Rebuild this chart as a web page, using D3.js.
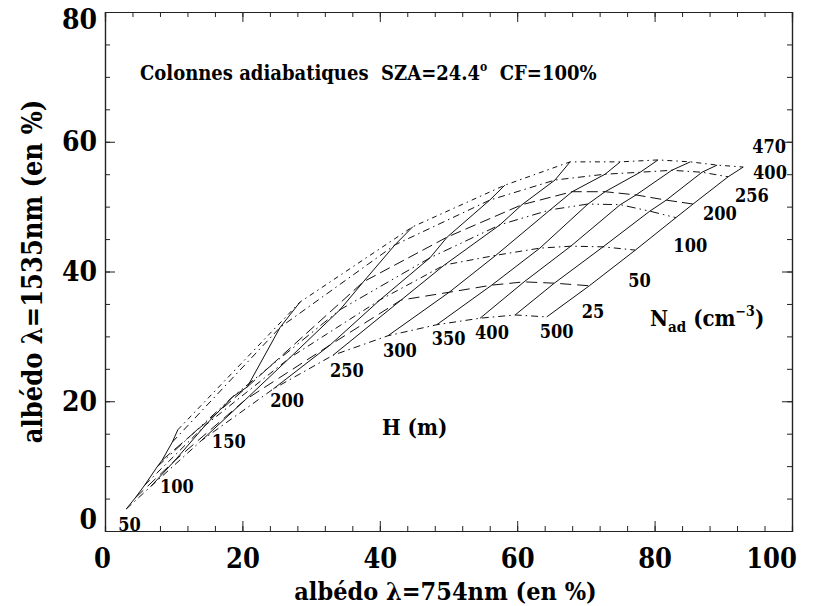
<!DOCTYPE html>
<html><head><meta charset="utf-8">
<script src="https://cdn.jsdelivr.net/npm/d3@7"></script>
<style>
html,body{margin:0;padding:0;background:#fff;}
svg{display:block;}
text{white-space:pre;font-family:"DejaVu Serif Condensed","DejaVu Serif",serif;font-stretch:condensed;font-weight:bold;fill:#000;}
</style></head>
<body><svg id="c" width="818" height="606"></svg>
<script>
// ---- data ----
const H_values = [50, 100, 150, 200, 250, 300, 350, 400, 450, 500];
const N_values = [25, 50, 100, 200, 256, 400, 470];
const H_labels = ["50", "100", "150", "200", "250", "300", "350", "400", "", "500"];
const N_labels = ["25", "50", "100", "200", "256", "400", "470"];
// albedo at 754 nm (%) : one row per H, columns follow N_values
const alb754 = [
  [3.1, 4.4, 5.8, 7.6, 8.3, 9.8, 10.6],
  [6.7, 10.2, 14.6, 18.6, 20.7, 25.5, 28.4],
  [14.1, 20.4, 26.9, 34.2, 37.6, 42.2, 44.8],
  [24.5, 32.8, 40.0, 47.3, 49.8, 56.0, 58.2],
  [33.2, 43.1, 49.4, 57.5, 60.7, 65.5, 67.7],
  [41.2, 50.1, 56.9, 64.8, 68.0, 72.8, 75.0],
  [48.3, 56.3, 63.3, 70.3, 72.8, 77.9, 80.5],
  [54.6, 61.0, 67.8, 75.0, 77.3, 82.5, 85.2],
  [59.7, 65.4, 72.5, 79.3, 81.7, 86.9, 89.1],
  [64.3, 70.5, 77.2, 83.1, 85.6, 90.7, 92.9]
];
// albedo at 1535 nm (%)
const alb1535 = [
  [3.4, 5.1, 7.1, 9.9, 10.9, 13.7, 15.6],
  [6.9, 10.9, 16.3, 20.7, 22.2, 31.4, 35.3],
  [14.0, 20.2, 26.7, 34.1, 38.4, 44.1, 46.9],
  [21.9, 28.7, 35.6, 42.1, 45.3, 51.0, 53.3],
  [27.1, 35.6, 41.0, 47.2, 50.3, 54.1, 56.9],
  [30.1, 36.8, 42.5, 49.5, 52.3, 55.0, 56.9],
  [31.8, 37.9, 43.6, 50.4, 52.3, 55.3, 57.2],
  [32.8, 38.4, 43.9, 50.3, 51.8, 55.6, 56.9],
  [33.3, 38.2, 43.8, 49.3, 51.0, 55.3, 56.4],
  [33.0, 37.8, 43.3, 48.3, 50.4, 54.6, 56.1]
];
const xTicks = [0, 20, 40, 60, 80, 100];
const yTicks = [0, 20, 40, 60, 80];

// ---- layout / style ----
const L = 105, R = 792, T = 12, B = 531;
const dashN = ["7,4,1.5,4", "11,6", "7,4,1.5,4", "9,4,1.5,4,1.5,4", "11,5", "7,4,1.5,4", "5,4,1.5,4"];
const hLabelOff = [[-8,22],[9,7],[10,8],[-3,18],[-3,22],[-5,21],[-5,20],[-5,21],[0,0],[-7,21]];
const nLabelOff = [[35,1],[39,1],[38,2],[27,2],[42,-2],[25,2],[9,-14]];
const xLabShift = {0: -3, 100: -21};
const yLabShift = {0: -11, 80: 8};

const svg = d3.select("#c");
const x = d3.scaleLinear().domain([0, 100]).range([L, R]);
const y = d3.scaleLinear().domain([0, 80]).range([B, T]);

const g = svg.append("g");
const line = d3.line().x(d => x(d[0])).y(d => y(d[1]));
const lineCol = "#111";

// constant-N curves (dash styles)
N_values.forEach((n, j) => {
  const pts = H_values.map((h, i) => [alb754[i][j], alb1535[i][j]]);
  g.append("path").attr("d", line(pts)).attr("fill", "none")
    .attr("stroke", lineCol).attr("stroke-width", 1)
    .attr("stroke-dasharray", dashN[j]);
});
// constant-H curves (solid)
H_values.forEach((h, i) => {
  const pts = N_values.map((n, j) => [alb754[i][j], alb1535[i][j]]);
  g.append("path").attr("d", line(pts)).attr("fill", "none")
    .attr("stroke", lineCol).attr("stroke-width", 1);
});

// labels
const labFont = 18;
H_values.forEach((h, i) => {
  if (!H_labels[i]) return;
  svg.append("text").attr("x", x(alb754[i][0]) + hLabelOff[i][0])
    .attr("y", y(alb1535[i][0]) + hLabelOff[i][1])
    .attr("font-size", labFont).text(H_labels[i]);
});
const last = H_values.length - 1;
N_values.forEach((n, j) => {
  svg.append("text").attr("x", x(alb754[last][j]) + nLabelOff[j][0])
    .attr("y", y(alb1535[last][j]) + nLabelOff[j][1])
    .attr("font-size", labFont).text(N_labels[j]);
});

// axes (box with inward ticks)
const axCol = "#222";
function styleAxis(sel) {
  sel.select(".domain").attr("stroke", axCol).attr("stroke-width", 1.2);
  sel.selectAll(".tick line").attr("stroke", axCol).attr("stroke-width", 1);
}
const minorX = d3.range(0, 101, 4);
const minorY = d3.range(0, 81, 5);
const bx = svg.append("g").attr("transform", `translate(0,${B})`)
  .call(d3.axisBottom(x).tickValues(xTicks).tickSizeInner(-10).tickSizeOuter(0).tickPadding(18).tickFormat(d3.format("d")));
bx.selectAll("text").attr("font-size", 27).attr("font-family", null)
  .attr("dx", d => xLabShift[d] || 0);
styleAxis(bx);
svg.append("g").attr("transform", `translate(0,${B})`)
  .call(d3.axisBottom(x).tickValues(minorX).tickSize(-5).tickFormat("")).call(styleAxis);
svg.append("g").attr("transform", `translate(0,${T})`)
  .call(d3.axisTop(x).tickValues(xTicks).tickSize(-10).tickFormat("")).call(styleAxis);
svg.append("g").attr("transform", `translate(0,${T})`)
  .call(d3.axisTop(x).tickValues(minorX).tickSize(-5).tickFormat("")).call(styleAxis);

const ly = svg.append("g").attr("transform", `translate(${L},0)`)
  .call(d3.axisLeft(y).tickValues(yTicks).tickSizeInner(-10).tickSizeOuter(0).tickPadding(8).tickFormat(d3.format("d")));
ly.selectAll("text").attr("font-size", 28).attr("font-family", null)
  .attr("y", d => yLabShift[d] || 0);
styleAxis(ly);
svg.append("g").attr("transform", `translate(${L},0)`)
  .call(d3.axisLeft(y).tickValues(minorY).tickSize(-5).tickFormat("")).call(styleAxis);
svg.append("g").attr("transform", `translate(${R},0)`)
  .call(d3.axisRight(y).tickValues(yTicks).tickSize(-10).tickFormat("")).call(styleAxis);
svg.append("g").attr("transform", `translate(${R},0)`)
  .call(d3.axisRight(y).tickValues(minorY).tickSize(-5).tickFormat("")).call(styleAxis);

// titles
svg.append("text").attr("x", (L + R) / 2 - 3).attr("y", 600).attr("text-anchor", "middle")
  .attr("font-size", 25).text("albédo λ=754nm (en %)");
svg.append("text").attr("transform", `translate(42,${(T + B) / 2}) rotate(-90)`)
  .attr("text-anchor", "middle").attr("font-size", 27)
  .text("albédo λ=1535nm (en %)");

const tt = svg.append("text").attr("x", 140).attr("y", 80).attr("font-size", 20);
tt.append("tspan").text("Colonnes adiabatiques  SZA=24.4");
tt.append("tspan").attr("dy", -9).attr("font-size", 12).text("o");
tt.append("tspan").attr("dy", 9).text("  CF=100%");

svg.append("text").attr("x", 382).attr("y", 435).attr("font-size", 22).text("H (m)");
const nt = svg.append("text").attr("x", 650).attr("y", 326).attr("font-size", 22);
nt.append("tspan").text("N");
nt.append("tspan").attr("dy", 6).attr("font-size", 15).text("ad");
nt.append("tspan").attr("dy", -6).text(" (cm");
nt.append("tspan").attr("dy", -10).attr("font-size", 14).text("−3");
nt.append("tspan").attr("dy", 10).text(")");
</script></body></html>
